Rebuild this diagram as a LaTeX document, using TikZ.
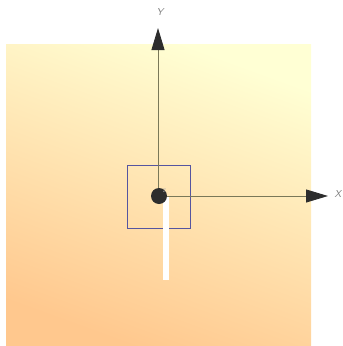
\documentclass[tikz,border=0pt]{standalone}
\usetikzlibrary{arrows.meta}
\definecolor{bgA}{RGB}{255,255,212}
\definecolor{bgB}{RGB}{255,200,142}
\definecolor{axisgray}{RGB}{122,120,88}
\definecolor{tipdark}{RGB}{45,45,45}
\definecolor{boxblue}{RGB}{85,85,160}
\definecolor{labelgray}{RGB}{125,125,125}
\tikzset{
  axis/.style={draw=axisgray, line width=0.9pt, -{Triangle[length=22pt,width=13pt,color=tipdark,fill=tipdark]}},
  axlabel/.style={text=labelgray, font=\sffamily\itshape\fontsize{10}{10}\selectfont, inner sep=0pt},
}
\begin{document}
\begin{tikzpicture}[x=1pt,y=-1pt]
\useasboundingbox (0,0) rectangle (343,346);
\shade[top color=bgA, bottom color=bgB, shading angle=-20] (6,44) rectangle (311,346);
\node[draw=boxblue, line width=0.7pt, minimum width=63pt, minimum height=63pt, inner sep=0pt] (box) at (158.5,196.5) {};
\coordinate (O) at (158,196);
\coordinate (Ytip) at (158,28);
\coordinate (Xtip) at (328,196);
\draw[axis] (O) -- (Ytip);
\draw[axis] (O) -- (Xtip);
\node[axlabel] (ylab) at (160,12) {Y};
\node[axlabel] (xlab) at (338,194) {X};
\fill[white] (163,197) rectangle (168.5,280);
\node[circle, fill=tipdark, minimum size=16pt, inner sep=0pt] (dot) at (159,196) {};
\node[text=labelgray!70, font=\sffamily\fontsize{5}{5}\selectfont, inner sep=0pt] (zlab) at (164.5,191) {Z};
\end{tikzpicture}
\end{document}
